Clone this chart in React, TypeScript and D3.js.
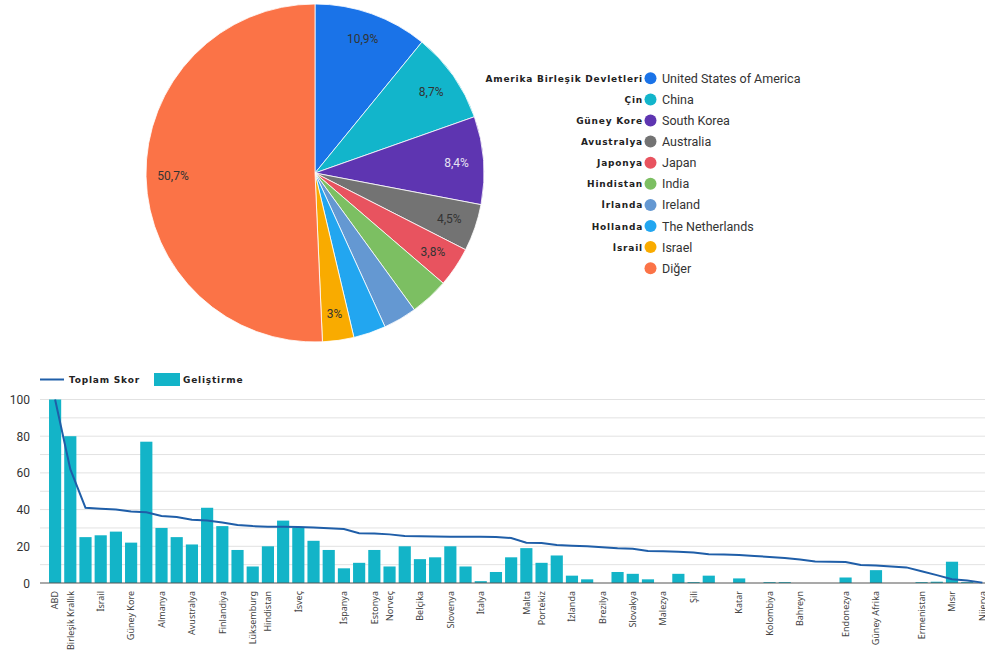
import React from "react";
import * as d3 from "d3";

// ---------- Pie data ----------
const pieNames = [
  "United States of America",
  "China",
  "South Korea",
  "Australia",
  "Japan",
  "India",
  "Ireland",
  "The Netherlands",
  "Israel",
  "Diğer",
];
const pieNamesTr = [
  "Amerika Birleşik Devletleri",
  "Çin",
  "Güney Kore",
  "Avustralya",
  "Japonya",
  "Hindistan",
  "İrlanda",
  "Hollanda",
  "İsrail",
  "",
];
const pieValues = [10.9, 8.7, 8.4, 4.5, 3.8, 3.7, 3.2, 3.1, 3.0, 50.7];
const pieShowLabel = [true, true, true, true, true, false, false, false, true, true];
const pieColors = [
  "#1a73e8",
  "#12b5cb",
  "#5e35b1",
  "#737373",
  "#e8535f",
  "#7cbf62",
  "#6498d2",
  "#22a6f0",
  "#f9ab00",
  "#fb7347",
];

// ---------- Bar / line data ----------
const countries = [
  "ABD", "Birleşik Krallık", "", "İsrail", "", "Güney Kore", "", "Almanya", "", "Avustralya",
  "", "Finlandiya", "", "Lüksemburg", "Hindistan", "", "İsveç", "", "", "İspanya",
  "", "Estonya", "Norveç", "", "Belçika", "", "Slovenya", "", "İtalya", "",
  "", "Malta", "Portekiz", "", "İzlanda", "", "Brezilya", "", "Slovakya", "",
  "Malezya", "", "Şili", "", "", "Katar", "", "Kolombiya", "", "Bahreyn",
  "", "", "Endonezya", "", "Güney Afrika", "", "", "Ermenistan", "", "Mısır",
  "", "Nijerya",
];
const development = [
  100, 80, 25, 26, 28, 22, 77, 30, 25, 21,
  41, 31, 18, 9, 20, 34, 30, 23, 18, 8,
  11, 18, 9, 20, 13, 14, 20, 9, 1, 6,
  14, 19, 11, 15, 4, 2, 0, 6, 5, 2,
  0, 5, 0.5, 4, 0, 2.5, 0, 0.5, 0.5, 0,
  0, 0, 3, 0, 7, 0, 0, 0.5, 0.7, 11.6,
  0.5, 0,
];
const totalScore = [
  100, 62, 41, 40.5, 40, 39, 38.5, 36.5, 36, 34.5,
  34, 33, 31.6, 31, 30.7, 30.7, 30.5, 30.3, 29.8, 29.4,
  27.1, 27, 26.5, 25.6, 25.5, 25.4, 25.2, 25.2, 25.2, 25.1,
  24.5, 22, 21.8, 20.7, 20.3, 20, 19.5, 19, 18.7, 17.5,
  17.3, 17, 16.6, 15.7, 15.5, 15.3, 14.7, 14.2, 13.6, 12.8,
  11.7, 11.6, 11.4, 9.8, 9.5, 9, 8.5, 6.4, 4.3, 2.1,
  1.4, 0.2,
];
const yTicks = [0, 20, 40, 60, 80, 100];
const yGrid = [10, 20, 30, 40, 50, 60, 70, 80, 90, 100];
const legendLine = "Toplam Skor";
const legendBar = "Geliştirme";

const BAR = "#13b4c8";
const LINE = "#1f5ea8";

function fmtPct(v: number) {
  return (Number.isInteger(v) ? String(v) : v.toFixed(1).replace(".", ",")) + "%";
}

export default function App() {
  const W = 985;
  const H = 652;

  // pie
  const cx = 315;
  const cy = 173;
  const R = 169;
  const pieGen = d3.pie<number>().sort(null).value((d) => d);
  const arcs = pieGen(pieValues);
  const arcGen = d3.arc<d3.PieArcDatum<number>>().innerRadius(0).outerRadius(R);
  const labelArc = d3.arc<d3.PieArcDatum<number>>().innerRadius(142).outerRadius(142);

  // bar chart
  const x = d3
    .scaleBand<number>()
    .domain(d3.range(countries.length))
    .range([47.5, 990])
    .paddingInner(0.2)
    .paddingOuter(0.1);
  const y = d3.scaleLinear().domain([0, 100]).range([583, 399.5]);
  const line = d3
    .line<number>()
    .x((_, i) => (x(i) as number) + x.bandwidth() / 2)
    .y((d) => y(d));

  const trFont = "'DejaVu Sans', sans-serif";

  return (
    <svg
      width={W}
      height={H}
      style={{ position: "absolute", left: 0, top: 0, background: "#fff" }}
    >
      {/* Pie */}
      <g transform={`translate(${cx},${cy})`}>
        {arcs.map((a, i) => (
          <path key={i} d={arcGen(a) || ""} fill={pieColors[i]} stroke="#fff" strokeWidth={0.8} />
        ))}
        {arcs.map((a, i) => {
          if (!pieShowLabel[i]) return null;
          const [lx, ly] = labelArc.centroid(a);
          return (
            <text
              key={i}
              x={lx}
              y={ly}
              dy="0.35em"
              textAnchor="middle"
              fontFamily="Roboto, sans-serif"
              fontSize={12}
              fill={i === 2 ? "#e6e2f2" : "#333"}
            >
              {fmtPct(pieValues[i])}
            </text>
          );
        })}
      </g>

      {/* Pie legend */}
      {pieNames.map((n, i) => {
        const ry = 78.3 + i * 21.1;
        return (
          <g key={n}>
            <circle cx={650.5} cy={ry} r={6} fill={pieColors[i]} />
            <text
              x={662}
              y={ry + 4.5}
              fontFamily="Roboto, sans-serif"
              fontSize={12.5}
              fill="#333"
            >
              {n}
            </text>
            {pieNamesTr[i] && (
              <text
                x={643}
                y={ry + 3.5}
                textAnchor="end"
                fontFamily={trFont}
                fontWeight="bold"
                fontSize={9}
                letterSpacing={0.8}
                fill="#222"
              >
                {pieNamesTr[i]}
              </text>
            )}
          </g>
        );
      })}

      {/* Bar chart legend */}
      <line x1={40} x2={64} y1={379.5} y2={379.5} stroke={LINE} strokeWidth={2} />
      <text x={69} y={383} fontFamily={trFont} fontWeight="bold" fontSize={9} letterSpacing={0.8} fill="#222">
        {legendLine}
      </text>
      <rect x={154} y={373} width={26} height={13} fill={BAR} />
      <text x={183} y={383} fontFamily={trFont} fontWeight="bold" fontSize={9} letterSpacing={0.8} fill="#222">
        {legendBar}
      </text>

      {/* Grid */}
      {yGrid.map((g) => (
        <line key={g} x1={40} x2={W} y1={y(g)} y2={y(g)} stroke="#e2e2e2" strokeWidth={1} />
      ))}
      {yTicks.map((t) => (
        <text
          key={t}
          x={30}
          y={y(t) + 4.5}
          textAnchor="end"
          fontFamily="Roboto, sans-serif"
          fontSize={12}
          fill="#333"
        >
          {t}
        </text>
      ))}

      {/* Bars */}
      {development.map((v, i) => (
        <rect
          key={i}
          x={x(i)}
          y={y(v)}
          width={x.bandwidth()}
          height={Math.max(0, y(0) - y(v))}
          fill={BAR}
        />
      ))}

      {/* Baseline */}
      <line x1={40} x2={W} y1={y(0)} y2={y(0)} stroke="#555" strokeWidth={1.2} />

      {/* Line */}
      <path d={line(totalScore) || ""} fill="none" stroke={LINE} strokeWidth={2} />

      {/* X labels */}
      {countries.map((c, i) => {
        if (!c) return null;
        const lx = (x(i) as number) + x.bandwidth() / 2 + 3.2;
        return (
          <text
            key={i}
            transform={`translate(${lx},591) rotate(-90)`}
            textAnchor="end"
            fontFamily="'Noto Sans', sans-serif"
            fontSize={9}
            fill="#444"
          >
            {c}
          </text>
        );
      })}
    </svg>
  );
}
